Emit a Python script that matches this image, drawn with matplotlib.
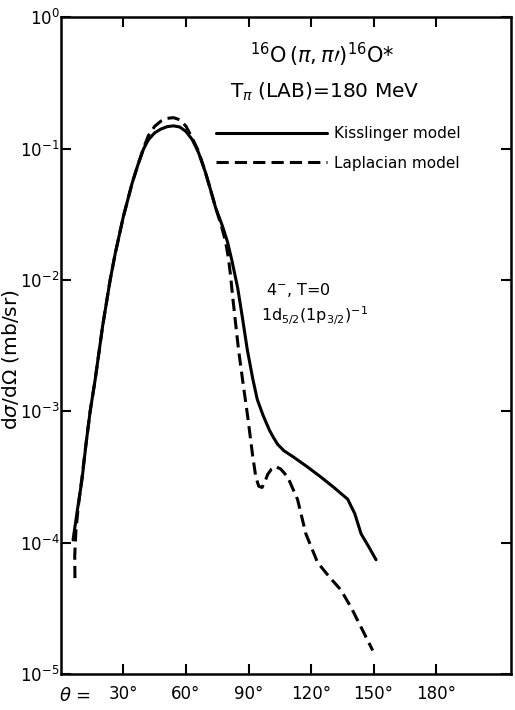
import numpy as np
import matplotlib
matplotlib.use('Agg')
import matplotlib.pyplot as plt
import matplotlib.ticker as mticker

matplotlib.rcParams.update({'font.size': 10, 'font.family': 'DejaVu Sans'})

# angle (deg) and dsigma/dOmega (mb/sr)
kiss_theta = [5.8, 7.7, 10.1, 12.0, 14.0, 16.4, 20.0, 23.6, 26.0, 29.9, 34.2, 37.0,
              39.7, 42.0, 45.0, 48.0, 51.0, 54.0, 57.0, 60.0, 63.0, 66.0, 69.3,
              71.7, 74.2, 77.5, 79.9, 82.0, 84.8, 87.0, 89.4, 92.0, 94.2, 97.0,
              100.0, 102.0, 104.0, 107.0, 111.7, 118.0, 124.7, 131.0, 137.6, 141.0,
              144.0, 148.0, 151.2]
kiss_xs = [1.05e-4, 1.70e-4, 3.02e-4, 5.62e-4, 1.0e-3, 1.74e-3, 4.47e-3, 1.0e-2,
           1.58e-2, 3.02e-2, 5.50e-2, 0.0759, 0.100, 0.117, 0.132, 0.141, 0.147,
           0.149, 0.146, 0.135, 0.117, 0.0933, 0.0661, 0.049, 0.0355, 0.0257,
           0.0195, 0.0141, 8.7e-3, 5.25e-3, 2.95e-3, 1.78e-3, 1.23e-3, 9.3e-4,
           7.2e-4, 6.3e-4, 5.6e-4, 5.01e-4, 4.47e-4, 3.80e-4, 3.16e-4, 2.63e-4,
           2.14e-4, 1.66e-4, 1.17e-4, 9.12e-5, 7.41e-5]

lap_theta = [6.7, 6.6, 7.2, 8.5, 10.1, 12.0, 14.0, 16.4, 20.0, 23.6, 26.0, 29.9,
             34.2, 37.0, 39.5, 42.0, 45.0, 48.0, 51.0, 54.0, 57.0, 60.0, 63.0,
             66.0, 69.3, 71.7, 74.2, 77.0, 79.0, 80.4, 81.4, 82.4, 85.2, 87.5,
             89.6, 92.0, 93.5, 94.9, 96.5, 98.0, 99.2, 101.0, 103.0, 105.5, 108.8,
             111.0, 113.5, 117.5, 123.1, 128.7, 134.3, 139.1, 143.9, 149.6]
lap_xs = [5.37e-5, 7.94e-5, 1.26e-4, 2.0e-4, 3.16e-4, 5.62e-4, 1.0e-3, 1.74e-3,
          4.47e-3, 1.0e-2, 1.58e-2, 3.02e-2, 5.50e-2, 0.0759, 0.100, 0.126, 0.148,
          0.162, 0.170, 0.172, 0.166, 0.148, 0.120, 0.0955, 0.0661, 0.049, 0.0355,
          0.0257, 0.0195, 0.0145, 0.0107, 7.41e-3, 2.95e-3, 1.58e-3, 9.12e-4,
          4.57e-4, 3.16e-4, 2.69e-4, 2.63e-4, 2.95e-4, 3.31e-4, 3.63e-4, 3.80e-4,
          3.63e-4, 3.16e-4, 2.63e-4, 2.14e-4, 1.17e-4, 7.08e-5, 5.5e-5, 4.37e-5,
          3.24e-5, 2.29e-5, 1.51e-5]

xticks = [30, 60, 90, 120, 150, 180]
xticklabels = ['30°', '60°', '90°', '120°', '150°', '180°']

fig = plt.figure(figsize=(5.15, 7.10), dpi=100)
ax = fig.add_axes([0.1184, 0.0507, 0.874, 0.925])

ax.plot(kiss_theta, kiss_xs, color='black', lw=2.2, solid_capstyle='round',
        solid_joinstyle='round', label='Kisslinger model')
ax.plot(lap_theta, lap_xs, color='black', lw=2.2, dashes=(4, 2),
        label='Laplacian model')

ax.set_yscale('log')
ax.set_xlim(0, 216)
ax.set_ylim(1e-5, 1)
ax.set_xticks(xticks)
ax.set_xticklabels(xticklabels, fontsize=12)
ax.yaxis.set_major_locator(mticker.LogLocator(base=10, numticks=10))
ax.yaxis.set_minor_locator(mticker.NullLocator())
ax.tick_params(which='major', direction='in', length=7, width=1.5,
               top=True, right=True)
ax.tick_params(axis='y', pad=1, labelsize=12)
ax.tick_params(axis='x', pad=8)
for s in ax.spines.values():
    s.set_linewidth(1.8)

ax.set_ylabel(r'd$\sigma$/d$\Omega$ (mb/sr)', fontsize=14.5)
ax.yaxis.set_label_coords(-0.089, 0.478)
ax.text(-0.005, -0.033, r'$\theta$ =', transform=ax.transAxes, fontsize=13,
        ha='left', va='center')

ax.text(0.58, 0.942, r'$^{16}$O$\,(\pi,\pi\prime)^{16}$O*', transform=ax.transAxes,
        fontsize=15, ha='center', va='center')
ax.text(0.587, 0.886, r'T$_\pi$ (LAB)=180 MeV', transform=ax.transAxes,
        fontsize=14.5, ha='center', va='center')

leg = ax.legend(loc='upper left', bbox_to_anchor=(0.313, 0.855), frameon=False,
                handlelength=7.3, handletextpad=0.45, fontsize=11, labelspacing=0.95)

ax.text(0.455, 0.585, r'4$^{-}$, T=0', transform=ax.transAxes, fontsize=11.5,
        ha='left', va='center')
ax.text(0.445, 0.545, r'1d$_{5/2}$(1p$_{3/2}$)$^{-1}$', transform=ax.transAxes,
        fontsize=11.5, ha='left', va='center')

fig.savefig('out.png', dpi=100)
